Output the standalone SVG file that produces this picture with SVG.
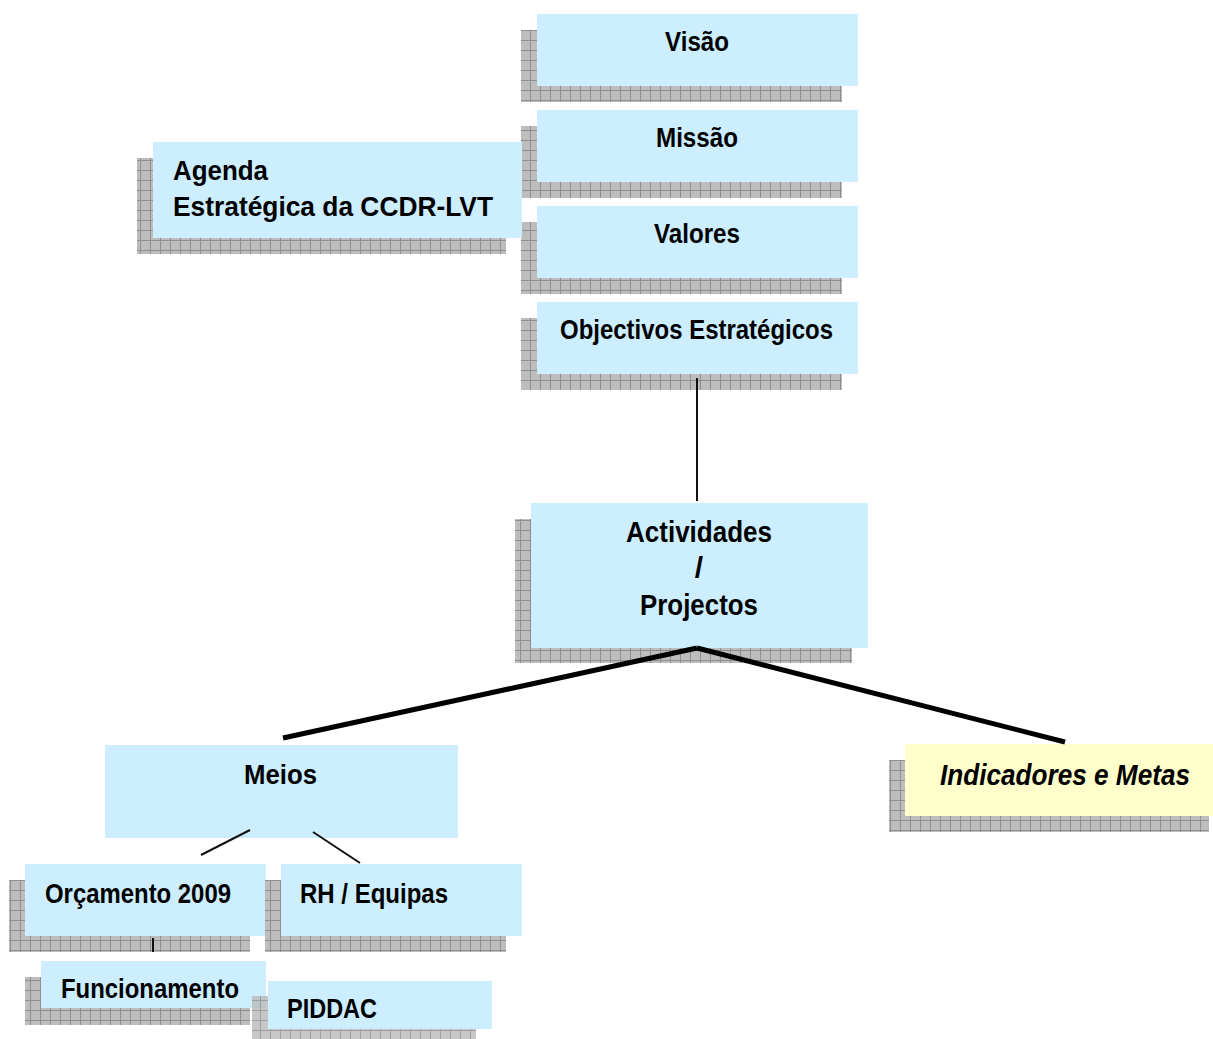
<svg xmlns="http://www.w3.org/2000/svg" width="1213" height="1039" viewBox="0 0 1213 1039">
<defs>
<pattern id="grid" width="10" height="10" patternUnits="userSpaceOnUse">
<rect width="10" height="10" fill="#bdbdbd"/>
<path d="M0 0.5H10M0.5 0V10" stroke="#8f8f8f" stroke-width="1" fill="none"/>
</pattern>
</defs>
<style>
.sh{fill:url(#grid)}
.bx{fill:#cceeff}
.yl{fill:#ffffcc}
.t{font-family:"Liberation Sans",Arial,sans-serif;font-weight:bold;font-size:28px;fill:#000}
.tb{font-size:30px}
.ti{font-style:italic;font-size:29px}
.thin{stroke:#111;stroke-width:2;fill:none}
.thick{stroke:#000;stroke-width:5;fill:none}
</style>
<rect width="1213" height="1039" fill="#fff"/>

<g id="visao">
<rect class="sh" x="521" y="30" width="321" height="72"/>
<rect class="bx" x="537" y="14" width="321" height="72"/>
<text class="t" x="665" y="51" textLength="64" lengthAdjust="spacingAndGlyphs">Visão</text>
</g>
<g id="missao">
<rect class="sh" x="521" y="126" width="321" height="72"/>
<rect class="bx" x="537" y="110" width="321" height="72"/>
<text class="t" x="656" y="147" textLength="82" lengthAdjust="spacingAndGlyphs">Missão</text>
</g>
<g id="valores">
<rect class="sh" x="521" y="222" width="321" height="72"/>
<rect class="bx" x="537" y="206" width="321" height="72"/>
<text class="t" x="654" y="243" textLength="86" lengthAdjust="spacingAndGlyphs">Valores</text>
</g>
<g id="objectivos">
<rect class="sh" x="521" y="318" width="321" height="72"/>
<rect class="bx" x="537" y="302" width="321" height="72"/>
<text class="t" x="560" y="339" textLength="273" lengthAdjust="spacingAndGlyphs">Objectivos Estratégicos</text>
</g>
<g id="agenda">
<rect class="sh" x="137" y="158" width="369" height="96"/>
<rect class="bx" x="153" y="142" width="369" height="96"/>
<text class="t" x="173" y="180" textLength="95" lengthAdjust="spacingAndGlyphs">Agenda</text>
<text class="t" x="173" y="216" textLength="320" lengthAdjust="spacingAndGlyphs">Estratégica da CCDR-LVT</text>
</g>
<g id="actividades">
<rect class="sh" x="515" y="519" width="337" height="144"/>
<rect class="bx" x="531" y="503" width="337" height="145"/>
<text class="t tb" x="626" y="542" textLength="146" lengthAdjust="spacingAndGlyphs">Actividades</text>
<text class="t tb" x="699" y="578" text-anchor="middle">/</text>
<text class="t tb" x="640" y="615" textLength="118" lengthAdjust="spacingAndGlyphs">Projectos</text>
</g>
<g id="meios">
<rect class="bx" x="105" y="745" width="353" height="93"/>
<text class="t" x="244" y="784" textLength="73" lengthAdjust="spacingAndGlyphs">Meios</text>
</g>
<g id="indicadores">
<rect class="sh" x="889" y="760" width="320" height="72"/>
<rect class="yl" x="905" y="744" width="308" height="72"/>
<text class="t ti" x="940" y="785" textLength="250" lengthAdjust="spacingAndGlyphs">Indicadores e Metas</text>
</g>
<g id="orcamento">
<rect class="sh" x="9" y="880" width="241" height="72"/>
<rect class="bx" x="25" y="864" width="241" height="72"/>
<text class="t" x="45" y="903" textLength="186" lengthAdjust="spacingAndGlyphs">Orçamento 2009</text>
</g>
<g id="rh">
<rect class="sh" x="265" y="880" width="241" height="72"/>
<rect class="bx" x="281" y="864" width="241" height="72"/>
<text class="t" x="300" y="903" textLength="148" lengthAdjust="spacingAndGlyphs">RH / Equipas</text>
</g>
<g id="funcionamento">
<rect class="sh" x="25" y="977" width="225" height="48"/>
<rect class="bx" x="41" y="961" width="225" height="47"/>
<text class="t" x="61" y="998" textLength="178" lengthAdjust="spacingAndGlyphs">Funcionamento</text>
</g>
<g id="piddac">
<rect class="sh" x="252" y="996" width="224" height="43" opacity="0.85"/>
<rect class="bx" x="268" y="981" width="224" height="48"/>
<text class="t" x="287" y="1018" textLength="90" lengthAdjust="spacingAndGlyphs">PIDDAC</text>
</g>

<g id="connectors">
<line class="thin" x1="697" y1="378" x2="697" y2="501"/>
<line class="thick" x1="697" y1="648" x2="283" y2="738"/>
<line class="thick" x1="697" y1="648" x2="1065" y2="742"/>
<line class="thin" x1="250" y1="830" x2="201" y2="855"/>
<line class="thin" x1="313" y1="832" x2="360" y2="863"/>
<line class="thin" x1="153" y1="938" x2="153" y2="952"/>
</g>
</svg>
